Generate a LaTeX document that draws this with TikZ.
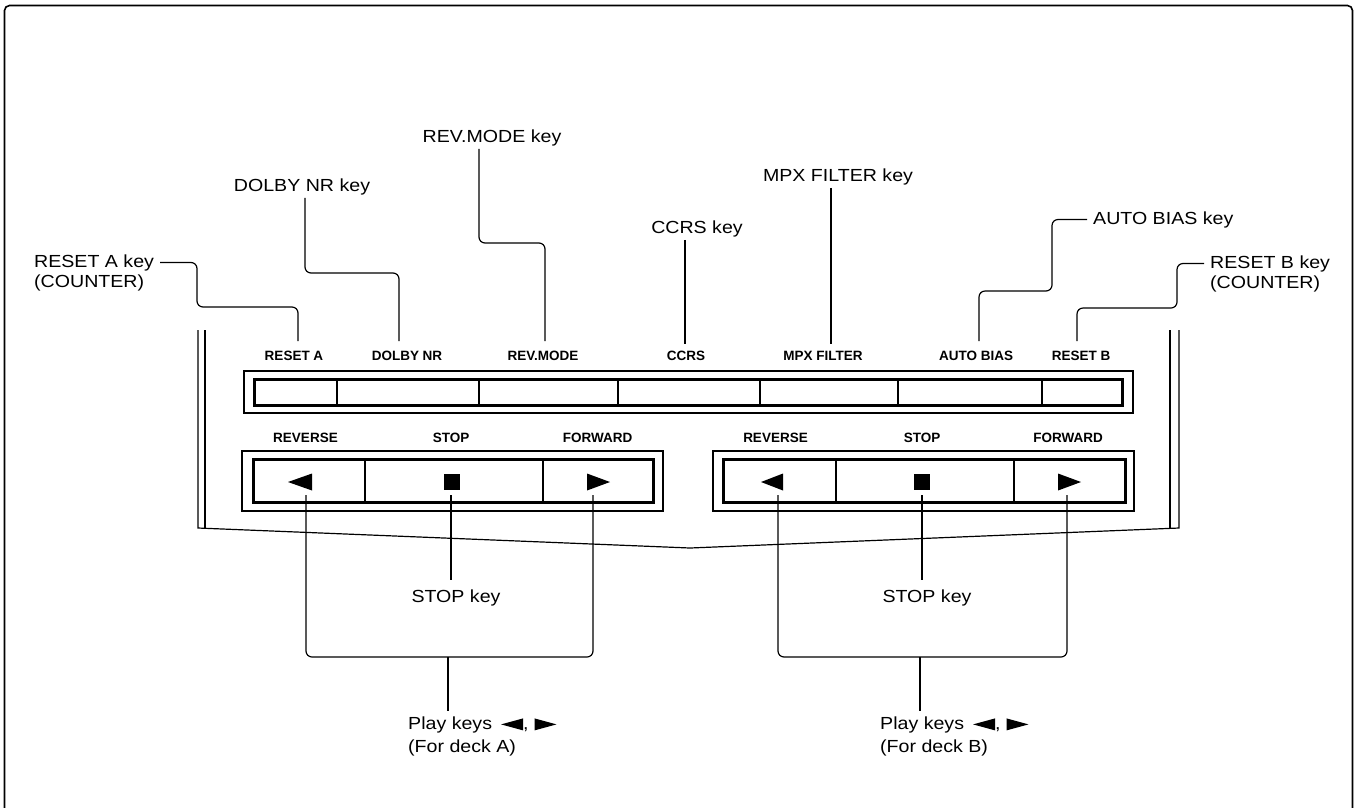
\documentclass[tikz,border=0pt]{standalone}
\usepackage{fontspec}
\setmainfont{Liberation Sans}
\newfontfamily\lblfont[FakeStretch=1.12]{Liberation Sans}
\usetikzlibrary{calc}
\newcommand{\ltri}{\tikz[baseline=0pt]\fill (0pt,5.5pt) -- (22pt,-0.5pt) -- (22pt,11.5pt) -- cycle;}
\newcommand{\rtri}{\tikz[baseline=0pt]\fill (22pt,5.5pt) -- (0pt,-0.5pt) -- (0pt,11.5pt) -- cycle;}
\tikzset{
  callout/.style={font=\lblfont\fontsize{17.5pt}{22.5pt}\selectfont, inner sep=3pt},
  keylbl/.style={font=\bfseries\fontsize{13.5pt}{16pt}\selectfont, inner sep=0pt, text height=9.7pt, text depth=0pt},
  leader/.style={line width=1.2pt, rounded corners=6pt},
  thinbox/.style={line width=1.1pt},
  thickbox/.style={line width=3pt},
  frameline/.style={line width=1.6pt, rounded corners=5pt},
  outline/.style={line width=1.2pt},
}
\begin{document}
\begin{tikzpicture}[x=1pt,y=-1pt]
\useasboundingbox (0,0) rectangle (1356,807);
% outer frame
\draw[frameline] (4.5,840) -- (4.5,5.5) -- (1352.5,5.5) -- (1352.5,840);

% deck outline
\draw[outline] (198,330) -- (198,528) -- (690,548) -- (1179,528) -- (1179,330);
\draw[outline] (205,330) -- (205,528.3);
\draw[outline] (1170,330) -- (1170,528.4);

% key bar
\draw[thinbox] (244,371) rectangle (1133,413);
\draw[thickbox] (254,379) rectangle (1122,405);
\foreach \x in {337,479,618,760,898,1042} \draw[thinbox] (\x,379) -- (\x,405);

% key labels
\node[keylbl,anchor=base] (kRA) at (294,360) {RESET A};
\node[keylbl,anchor=base] (kDN) at (407,360) {DOLBY NR};
\node[keylbl,anchor=base] (kRM) at (543,360) {REV.MODE};
\node[keylbl,anchor=base] (kCC) at (686,360) {CCRS};
\node[keylbl,anchor=base] (kMX) at (823,360) {MPX FILTER};
\node[keylbl,anchor=base] (kAB) at (976,360) {AUTO BIAS};
\node[keylbl,anchor=base] (kRB) at (1081,360) {RESET B};

% callouts (top)
\node[callout,anchor=base west] (cRA) at (31,267) {RESET A key};
\node[callout,anchor=base west] (cRA2) at (31,287) {(COUNTER)};
\node[callout,anchor=base] (cDN) at (302,191) {DOLBY NR key};
\node[callout,anchor=base] (cRM) at (492,142) {REV.MODE key};
\node[callout,anchor=base] (cCC) at (697,233) {CCRS key};
\node[callout,anchor=base] (cMX) at (838,181) {MPX FILTER key};
\node[callout,anchor=base west] (cAB) at (1090,224) {AUTO BIAS key};
\node[callout,anchor=base west] (cRB) at (1207,268) {RESET B key};
\node[callout,anchor=base west] (cRB2) at (1207,288) {(COUNTER)};

\draw[leader, shorten <=3pt] (cRA.east) -- (197,262.5) -- (197,307) -- (298,307) -- ([xshift=4pt,yshift=9pt]kRA.north);
\draw[leader] ([xshift=3pt]cDN.south) -- (305,273) -- (399,273) -- ([xshift=-8pt,yshift=9pt]kDN.north);
\draw[leader] ([xshift=-13pt]cRM.south) -- (479,243) -- (545,243) -- ([xshift=2pt,yshift=9pt]kRM.north);
\draw[leader] ([xshift=-12pt]cCC.south) -- ([xshift=-1pt,yshift=6pt]kCC.north);
\draw[leader] ([xshift=-7pt]cMX.south) -- ([xshift=8pt,yshift=6pt]kMX.north);
\draw[leader, shorten <=3pt] (cAB.west) -- (1052,219.5) -- (1052,291) -- (979,291) -- ([xshift=3pt,yshift=9pt]kAB.north);
\draw[leader, shorten <=3pt] (cRB.west) -- (1177,263.5) -- (1177,308) -- (1077,308) -- ([xshift=-4pt,yshift=9pt]kRB.north);

% transport labels
\node[keylbl,anchor=base] (tRevA) at (305.5,442) {REVERSE};
\node[keylbl,anchor=base] (tStopA) at (451,442) {STOP};
\node[keylbl,anchor=base] (tFwdA) at (597.5,442) {FORWARD};
\node[keylbl,anchor=base] (tRevB) at (775.5,442) {REVERSE};
\node[keylbl,anchor=base] (tStopB) at (922,442) {STOP};
\node[keylbl,anchor=base] (tFwdB) at (1068,442) {FORWARD};

% transport boxes
\draw[thinbox] (242,451) rectangle (663,511);
\draw[thickbox] (253,459) rectangle (653,502);
\foreach \x in {365,543} \draw[thinbox] (\x,459) -- (\x,502);
\draw[thinbox] (713,451) rectangle (1134,511);
\draw[thickbox] (723,459) rectangle (1125,502);
\foreach \x in {836,1014} \draw[thinbox] (\x,459) -- (\x,502);

% symbols
\fill (288,482) -- (312,473.5) -- (312,490.5) -- cycle;
\fill (444,474) rectangle (460,490);
\fill (610,482) -- (587,473.5) -- (587,490.5) -- cycle;
\fill (761,482) -- (783,473.5) -- (783,490.5) -- cycle;
\fill (914,474) rectangle (930,490);
\fill (1081,482) -- (1058,473.5) -- (1058,490.5) -- cycle;

\coordinate (sRevA) at (306,495);
\coordinate (sStopA) at (451,495);
\coordinate (sFwdA) at (593,495);
\coordinate (sRevB) at (778,495);
\coordinate (sStopB) at (922,495);
\coordinate (sFwdB) at (1067,495);

% STOP key callouts
\node[callout,anchor=base] (stA) at (456,602.7) {STOP key};
\node[callout,anchor=base] (stB) at (927,602.7) {STOP key};
\draw[leader, shorten >=7pt] (sStopA) -- ([xshift=-5pt]stA.north);
\draw[leader, shorten >=7pt] (sStopB) -- ([xshift=-5pt]stB.north);

% brackets
\draw[leader] (sRevA) -- (306,657) -- (593,657) -- (sFwdA);
\draw[leader] (sRevB) -- (778,657) -- (1067,657) -- (sFwdB);
\coordinate (bA) at (448,657);
\coordinate (bB) at (920,657);

\node[callout,anchor=north west,align=left] (plA) at (405,714) {Play keys\hspace{9pt}\ltri,\hspace{6pt}\rtri\\(For deck A)};
\node[callout,anchor=north west,align=left] (plB) at (877,714) {Play keys\hspace{9pt}\ltri,\hspace{6pt}\rtri\\(For deck B)};
\draw[leader, shorten >=3pt] (bA) -- ([xshift=43pt]plA.north west);
\draw[leader, shorten >=3pt] (bB) -- ([xshift=43pt]plB.north west);
\end{tikzpicture}
\end{document}
